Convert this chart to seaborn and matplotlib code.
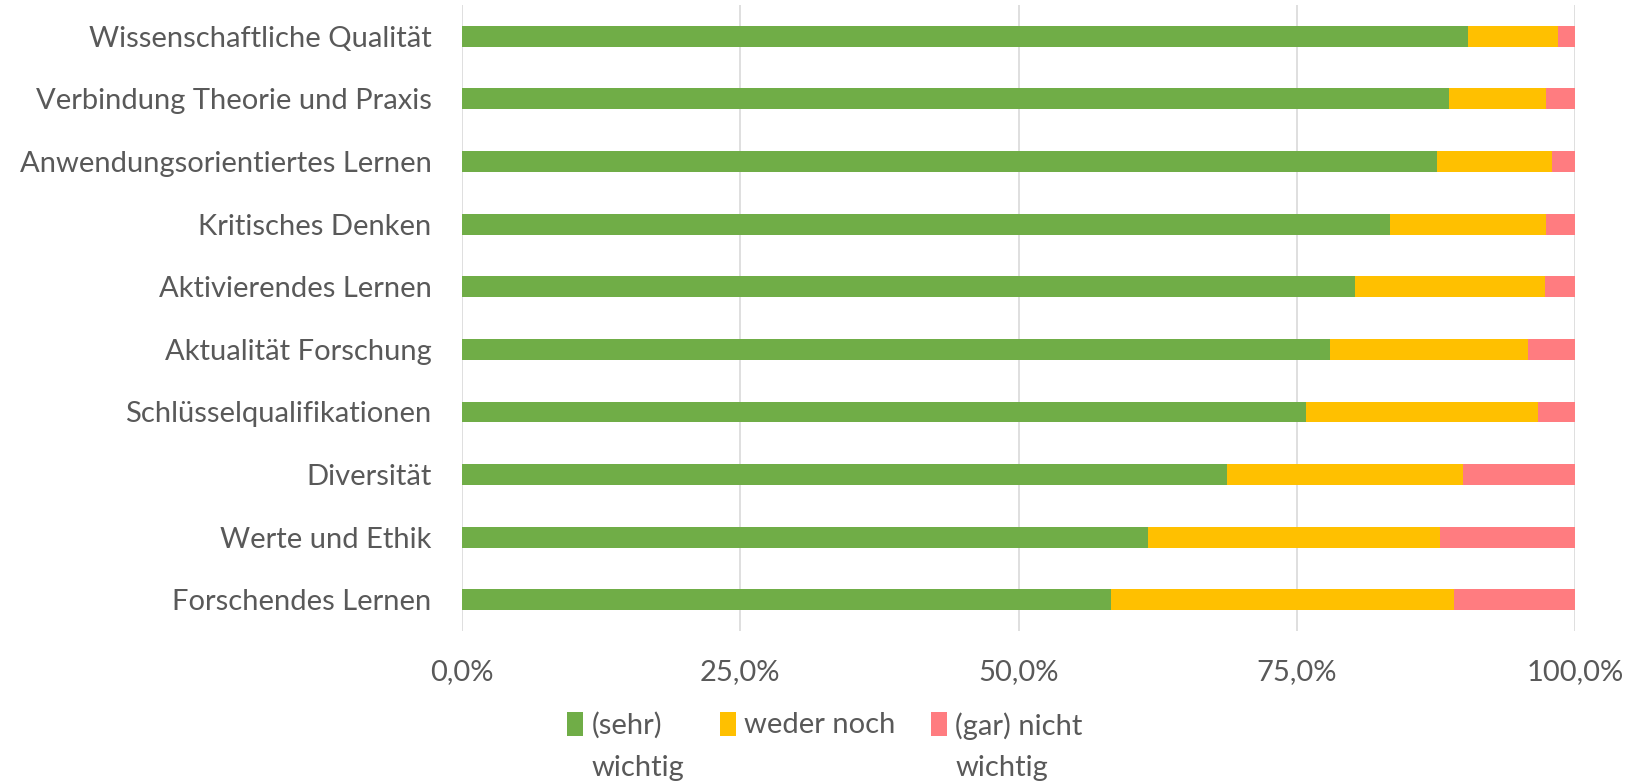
import numpy as np
import pandas as pd
import seaborn as sns
import matplotlib.pyplot as plt

# categories, top to bottom
kategorien = ["Wissenschaftliche Qualität", "Verbindung Theorie und Praxis",
              "Anwendungsorientiertes Lernen", "Kritisches Denken",
              "Aktivierendes Lernen", "Aktualität Forschung",
              "Schlüsselqualifikationen", "Diversität", "Werte und Ethik",
              "Forschendes Lernen"]
sehr_wichtig = [90.4, 88.7, 87.6, 83.4, 80.2, 78.0, 75.8, 68.7, 61.6, 58.3]
weder_noch = [8.1, 8.7, 10.3, 14.0, 17.1, 17.8, 20.9, 21.2, 26.3, 30.8]
nicht_wichtig = [1.5, 2.6, 2.1, 2.6, 2.7, 4.2, 3.3, 10.1, 12.1, 10.9]
serien = ["(sehr)\nwichtig", "weder noch", "(gar) nicht\nwichtig"]
farben = ["#70AD47", "#FFC000", "#FF7C80"]
x_ticks = [0, 25, 50, 75, 100]
x_labels = ["0,0%", "25,0%", "50,0%", "75,0%", "100,0%"]

sns.set_style("white")
plt.rcParams["font.family"] = ["Lato", "DejaVu Sans"]
textfarbe = "#595959"
fs = 21

df = pd.DataFrame({"kat": kategorien, "s1": sehr_wichtig,
                   "s2": weder_noch, "s3": nicht_wichtig})
stack = df[["s1", "s2", "s3"]].cumsum(axis=1)
df["c1"], df["c2"], df["c3"] = stack["s1"], stack["s2"], stack["s3"]

fig = plt.figure(figsize=(16.4, 7.82), dpi=100)
ax = fig.add_axes([0.2817, 0.193, 0.6787, 0.8006])

# stacked: draw the totals first, then overlay the shorter pieces
for col, farbe, name in zip(["c3", "c2", "c1"], farben[::-1], serien[::-1]):
    sns.barplot(data=df, x=col, y="kat", color=farbe, width=1/3,
                orient="h", ax=ax, label=name, saturation=1, linewidth=0)

ax.set_xlim(0, 100)
ax.set_ylim(9.5, -0.5)
ax.set_xticks(x_ticks)
ax.set_xticklabels(x_labels)
ax.set_xlabel("")
ax.set_ylabel("")
ax.grid(axis="x", color="#D9D9D9", linewidth=1.2)
ax.set_axisbelow(True)
for s in ax.spines.values():
    s.set_visible(False)
ax.tick_params(axis="x", length=0, pad=20, labelsize=fs, labelcolor=textfarbe)
ax.tick_params(axis="y", length=0, pad=22, labelsize=fs, labelcolor=textfarbe)

handles, labels = ax.get_legend_handles_labels()
order = [labels.index(s) for s in serien]
leg = ax.legend([handles[i] for i in order], [labels[i] for i in order],
                loc="upper center", bbox_to_anchor=(0.503, 0.123),
                bbox_transform=fig.transFigure, ncol=3, frameon=False,
                fontsize=fs, handlelength=0.55, handleheight=0.9,
                handletextpad=0.3, columnspacing=1.2)
for t in leg.get_texts():
    t.set_color(textfarbe)
    t.set_linespacing(1.75)
# put the colour squares next to the first line of each label
leg._legend_handle_box.align = "top"
for column in leg._legend_handle_box.get_children():
    for item in column.get_children():
        item.align = "top"

fig.savefig("out.png", dpi=100)
